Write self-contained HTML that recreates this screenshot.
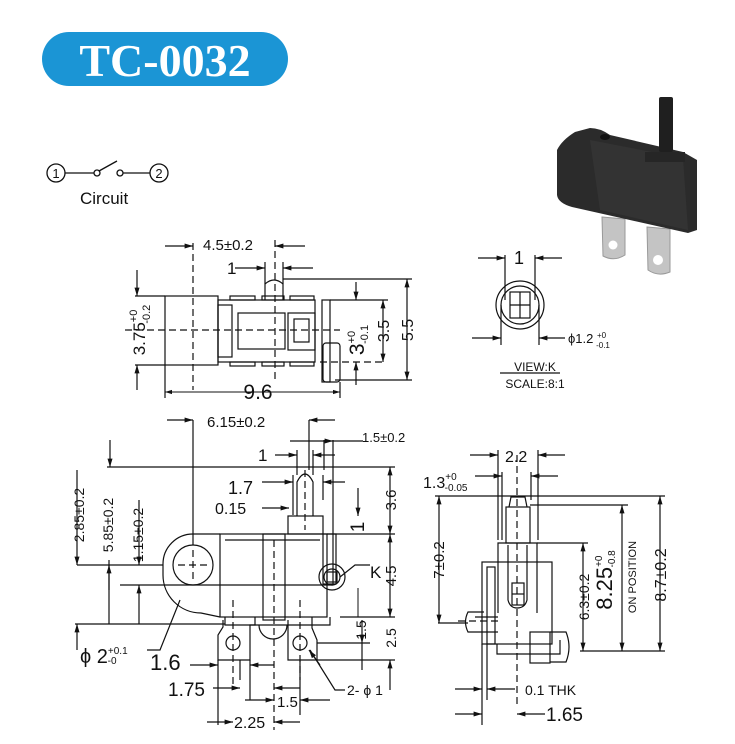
<!DOCTYPE html>
<html><head><meta charset="utf-8"><style>
html,body{margin:0;padding:0;background:#fff}
svg{display:block}
text{font-family:"Liberation Sans",sans-serif;fill:#111}
</style></head><body>
<svg width="735" height="744" viewBox="0 0 735 744" xmlns="http://www.w3.org/2000/svg">
<defs>
<marker id="a" viewBox="0 0 10 10" refX="10" refY="5" markerWidth="7" markerHeight="7" orient="auto-start-reverse"><path d="M0,2 L10,5 L0,8z" fill="#111"/></marker>
</defs>
<!-- title -->
<rect x="42" y="32" width="246" height="54" rx="27" fill="#1b95d5"/>
<text x="165" y="76" text-anchor="middle" style="font-family:'Liberation Serif',serif;font-weight:bold;font-size:46px;fill:#fff">TC-0032</text>
<!-- circuit -->
<g stroke="#111" stroke-width="1.3" fill="none">
<circle cx="56" cy="173" r="9"/><circle cx="159" cy="173" r="9"/>
<line x1="65" y1="173" x2="94" y2="173"/><circle cx="97" cy="173" r="3"/>
<line x1="99" y1="171" x2="117" y2="161"/><circle cx="120" cy="173" r="3"/>
<line x1="123" y1="173" x2="150" y2="173"/>
</g>
<text x="56" y="178" font-size="13" text-anchor="middle">1</text>
<text x="159" y="178" font-size="13" text-anchor="middle">2</text>
<text x="80" y="204" font-size="17">Circuit</text>
<!-- photo -->
<path d="M602,217 L625,219 L625,255 Q614,262 603,256 Z" fill="#c4c4c4" stroke="#999"/>
<path d="M647,227 L670,229 L670,272 Q658,277 648,270 Z" fill="#c4c4c4" stroke="#999"/>
<circle cx="613" cy="245" r="4.5" fill="#fff"/><circle cx="658" cy="260" r="5" fill="#fff"/>
<path d="M557,150 Q562,140 575,132 L590,128 Q600,128 610,135 L683,152 L697,160 L697,230 L688,233 L572,207 Q558,203 557,195 Z" fill="#2b2b2b"/>
<path d="M590,140 L683,158 L688,230 L600,210 Z" fill="#333"/>
<rect x="659" y="97" width="14" height="55" rx="2" fill="#1f1f1f"/>
<rect x="645" y="152" width="40" height="10" fill="#262626"/>
<ellipse cx="605" cy="137" rx="5" ry="3" fill="#111"/>
<g stroke="#111" stroke-width="1.2" fill="none">
<!-- TOP VIEW -->
<rect x="165" y="296" width="53" height="69"/>
<rect x="218" y="300" width="97" height="62"/>
<rect x="238" y="313" width="47" height="36"/>
<rect x="288" y="313" width="27" height="37"/><rect x="294" y="319" width="15" height="23"/>
<rect x="218" y="305" width="14" height="52"/>
<rect x="322" y="300" width="8" height="82"/>
<rect x="323" y="343" width="17" height="39" rx="3"/>
<path d="M265,300 L265,284 Q274,276 283,284 L283,300"/>
<rect x="230" y="296" width="25" height="4"/><rect x="262" y="296" width="22" height="4"/><rect x="290" y="296" width="24" height="4"/>
<rect x="230" y="362" width="25" height="4"/><rect x="262" y="362" width="22" height="4"/><rect x="290" y="362" width="24" height="4"/>
<g stroke-dasharray="7,4"><line x1="125" y1="330" x2="340" y2="330"/><line x1="193" y1="243" x2="193" y2="390"/><line x1="275" y1="240" x2="275" y2="380"/><line x1="320" y1="362" x2="385" y2="362"/></g>
<line x1="165" y1="296" x2="135" y2="296"/><line x1="165" y1="365" x2="135" y2="365"/>
<line x1="137" y1="270" x2="137" y2="296" marker-end="url(#a)"/><line x1="137" y1="390" x2="137" y2="365" marker-end="url(#a)"/>
<line x1="165" y1="365" x2="165" y2="398"/><line x1="340" y1="382" x2="340" y2="398"/>
<line x1="165" y1="392" x2="340" y2="392" marker-start="url(#a)" marker-end="url(#a)" stroke-width="1"/>
<line x1="165" y1="246" x2="193" y2="246" marker-end="url(#a)"/><line x1="305" y1="246" x2="275" y2="246" marker-end="url(#a)"/>
<line x1="265" y1="262" x2="265" y2="284"/><line x1="283" y1="262" x2="283" y2="284"/>
<line x1="235" y1="268" x2="265" y2="268" marker-end="url(#a)"/><line x1="313" y1="268" x2="283" y2="268" marker-end="url(#a)"/>
<line x1="283" y1="279" x2="412" y2="279"/><line x1="330" y1="300" x2="388" y2="300"/><line x1="335" y1="380" x2="412" y2="380"/>
<line x1="407" y1="279" x2="407" y2="380" marker-start="url(#a)" marker-end="url(#a)"/>
<line x1="383" y1="300" x2="383" y2="362" marker-start="url(#a)" marker-end="url(#a)"/>
<line x1="356" y1="282" x2="356" y2="300" marker-end="url(#a)"/><line x1="356" y1="385" x2="356" y2="362" marker-end="url(#a)"/>
<!-- VIEW K -->
<circle cx="520" cy="305" r="24"/><circle cx="520" cy="305" r="19"/>
<rect x="510" y="292" width="20" height="26"/><line x1="520" y1="292" x2="520" y2="318"/><line x1="510" y1="305" x2="530" y2="305"/>
<line x1="505" y1="255" x2="505" y2="300"/><line x1="535" y1="255" x2="535" y2="300"/>
<line x1="478" y1="258" x2="505" y2="258" marker-end="url(#a)"/><line x1="562" y1="258" x2="535" y2="258" marker-end="url(#a)"/>
<line x1="501" y1="305" x2="501" y2="345"/><line x1="539" y1="305" x2="539" y2="345"/>
<line x1="472" y1="338" x2="501" y2="338" marker-end="url(#a)"/><line x1="565" y1="338" x2="539" y2="338" marker-end="url(#a)"/>
<line x1="500" y1="373" x2="560" y2="373"/>
<!-- BOTTOM LEFT -->
<rect x="220" y="534" width="107" height="83"/>
<path d="M220,534 L193,534 A30,30 0 0 0 163,564 L163,575 A38,38 0 0 0 201,613 L220,617"/>
<circle cx="193" cy="565" r="20"/>
<rect x="263" y="534" width="22" height="86"/>
<rect x="288" y="516" width="35" height="18"/>
<path d="M297,516 L297,482 Q305,466 313,482 L313,516"/>
<line x1="225" y1="540" x2="320" y2="540"/>
<rect x="323" y="534" width="13" height="50"/>
<circle cx="332" cy="577" r="13"/><circle cx="332" cy="577" r="8"/><rect x="327" y="572" width="10" height="10"/>
<path d="M225,617 L225,625 L330,625 L330,617"/>
<path d="M223,620 L223,627 L218,635 L218,660 L250,660 L250,625 L255,625 L255,617"/>
<circle cx="233" cy="643" r="7"/>
<path d="M288,620 L288,635 L288,660 L317,660 L317,640 L312,628 L312,617"/>
<circle cx="300" cy="643" r="7"/>
<path d="M259,625 A14,14 0 0 0 287,625"/>
<g stroke-dasharray="7,4"><line x1="274" y1="540" x2="274" y2="730"/><line x1="305" y1="470" x2="305" y2="530"/><line x1="178" y1="565" x2="208" y2="565"/><line x1="193" y1="550" x2="193" y2="580"/><line x1="233" y1="600" x2="233" y2="690"/><line x1="300" y1="600" x2="300" y2="680"/></g>
<line x1="193" y1="420" x2="193" y2="545"/><line x1="309" y1="420" x2="309" y2="470"/>
<line x1="167" y1="420" x2="193" y2="420" marker-end="url(#a)"/><line x1="335" y1="420" x2="309" y2="420" marker-end="url(#a)"/>
<line x1="333" y1="440" x2="333" y2="585"/><line x1="324" y1="440" x2="324" y2="470"/>
<line x1="290" y1="441" x2="333" y2="441" marker-end="url(#a)"/><line x1="363" y1="441" x2="333" y2="441"/>
<line x1="297" y1="450" x2="297" y2="475"/><line x1="313" y1="450" x2="313" y2="475"/>
<line x1="275" y1="455" x2="297" y2="455" marker-end="url(#a)"/><line x1="335" y1="455" x2="313" y2="455" marker-end="url(#a)"/>
<line x1="293" y1="475" x2="293" y2="515"/><line x1="323" y1="475" x2="323" y2="500"/>
<line x1="262" y1="482" x2="293" y2="482" marker-end="url(#a)"/><line x1="345" y1="482" x2="323" y2="482" marker-end="url(#a)"/>
<line x1="262" y1="508" x2="289" y2="508" marker-end="url(#a)"/>
<line x1="107" y1="467" x2="395" y2="467"/>
<line x1="110" y1="440" x2="110" y2="467" marker-end="url(#a)"/>
<line x1="327" y1="534" x2="395" y2="534"/><line x1="340" y1="617" x2="395" y2="617"/>
<line x1="390" y1="467" x2="390" y2="534" marker-start="url(#a)" marker-end="url(#a)"/>
<line x1="390" y1="534" x2="390" y2="617" marker-start="url(#a)" marker-end="url(#a)"/>
<line x1="358" y1="488" x2="358" y2="516" marker-end="url(#a)"/>
<line x1="358" y1="588" x2="358" y2="617" stroke-width="1"/>
<line x1="317" y1="643" x2="370" y2="643"/><line x1="317" y1="660" x2="395" y2="660"/>
<line x1="362" y1="620" x2="362" y2="643" marker-end="url(#a)"/><line x1="362" y1="670" x2="362" y2="643"/>
<line x1="390" y1="690" x2="390" y2="660" marker-end="url(#a)"/>
<line x1="77" y1="565" x2="163" y2="565"/><line x1="120" y1="585" x2="333" y2="585"/><line x1="75" y1="624" x2="225" y2="624"/>
<line x1="77" y1="470" x2="77" y2="565" marker-end="url(#a)"/>
<line x1="109" y1="560" x2="109" y2="624" /><line x1="109" y1="590" x2="109" y2="565" marker-end="url(#a)"/>
<line x1="139" y1="500" x2="139" y2="565" marker-end="url(#a)"/><line x1="139" y1="624" x2="139" y2="585" marker-end="url(#a)"/>
<line x1="77" y1="650" x2="77" y2="624" marker-end="url(#a)"/>
<polyline points="147,650 160,650 180,600"/>
<line x1="218" y1="660" x2="218" y2="725"/><line x1="250" y1="660" x2="250" y2="700"/><line x1="240" y1="660" x2="240" y2="680"/>
<line x1="190" y1="665" x2="218" y2="665" marker-end="url(#a)"/><line x1="274" y1="665" x2="250" y2="665" marker-end="url(#a)"/>
<line x1="213" y1="688" x2="240" y2="688" marker-end="url(#a)"/><line x1="300" y1="688" x2="274" y2="688" marker-end="url(#a)"/>
<line x1="300" y1="660" x2="300" y2="715"/>
<line x1="245" y1="700" x2="274" y2="700" marker-end="url(#a)"/><line x1="330" y1="700" x2="300" y2="700" marker-end="url(#a)"/>
<line x1="207" y1="722" x2="233" y2="722" marker-end="url(#a)"/><line x1="300" y1="722" x2="274" y2="722" marker-end="url(#a)"/>
<polyline points="345,690 335,690 310,650" /><line x1="320" y1="665" x2="309" y2="650" marker-end="url(#a)"/>
<polyline points="370,565 355,565 340,577"/>
<!-- RIGHT VIEW -->
<rect x="482" y="562" width="70" height="82"/>
<rect x="487" y="567" width="8" height="77"/>
<path d="M498,613 L498,543 L537,543 L537,613"/>
<path d="M508,545 L508,600 Q510,608 517,608 Q525,608 527,600 L527,545"/>
<rect x="512" y="583" width="12" height="22"/><line x1="512" y1="594" x2="524" y2="594"/>
<rect x="506" y="507" width="24" height="36"/>
<path d="M509,507 L511,497 L525,497 L527,507"/>
<path d="M484,612 L468,612 Q463,622 468,632 L498,632"/><line x1="475" y1="617" x2="498" y2="617"/>
<path d="M497,644 L497,654 L560,654 L560,640"/>
<rect x="530" y="632" width="20" height="31"/><path d="M550,632 L566,632 Q572,647 566,662 L550,662"/>
<g stroke-dasharray="7,4"><line x1="517" y1="455" x2="517" y2="705"/><line x1="458" y1="621" x2="500" y2="621"/></g>
<line x1="498" y1="450" x2="498" y2="540"/><line x1="538" y1="450" x2="538" y2="540"/>
<line x1="470" y1="455" x2="498" y2="455" marker-end="url(#a)"/><line x1="565" y1="455" x2="538" y2="455" marker-end="url(#a)"/>
<line x1="502" y1="472" x2="502" y2="540"/><line x1="531" y1="472" x2="531" y2="500"/>
<line x1="475" y1="476" x2="502" y2="476" marker-end="url(#a)"/><line x1="558" y1="476" x2="531" y2="476" marker-end="url(#a)"/>
<line x1="435" y1="496" x2="665" y2="496"/><line x1="530" y1="505" x2="628" y2="505"/><line x1="537" y1="543" x2="588" y2="543"/>
<line x1="580" y1="651" x2="665" y2="651"/><line x1="438" y1="623" x2="468" y2="623"/>
<line x1="439" y1="496" x2="439" y2="623" marker-start="url(#a)" marker-end="url(#a)"/>
<line x1="583" y1="543" x2="583" y2="651" marker-start="url(#a)" marker-end="url(#a)"/>
<line x1="622" y1="505" x2="622" y2="651" marker-start="url(#a)" marker-end="url(#a)"/>
<line x1="660" y1="496" x2="660" y2="651" marker-start="url(#a)" marker-end="url(#a)"/>
<line x1="482" y1="644" x2="482" y2="725"/><line x1="487" y1="644" x2="487" y2="700"/>
<line x1="455" y1="689" x2="482" y2="689" marker-end="url(#a)"/><line x1="515" y1="689" x2="487" y2="689" marker-end="url(#a)"/>
<line x1="455" y1="714" x2="482" y2="714" marker-end="url(#a)"/><line x1="545" y1="714" x2="517" y2="714" marker-end="url(#a)"/>
</g>
<!-- texts -->
<text x="203" y="250" font-size="15">4.5±0.2</text>
<text x="227" y="274" font-size="17">1</text>
<text x="258" y="399" font-size="21" text-anchor="middle">9.6</text>
<text transform="translate(145,330) rotate(-90)" font-size="17" text-anchor="middle">3.75<tspan font-size="11" dy="-8">+0</tspan><tspan font-size="11" dx="-14" dy="13">-0.2</tspan></text>
<text transform="translate(364,340) rotate(-90)" font-size="21" text-anchor="middle">3<tspan font-size="11" dy="-9">+0</tspan><tspan font-size="11" dx="-13" dy="13">-0.1</tspan></text>
<text transform="translate(389,331) rotate(-90)" font-size="16" text-anchor="middle">3.5</text>
<text transform="translate(413,330) rotate(-90)" font-size="16" text-anchor="middle">5.5</text>
<text x="514" y="264" font-size="18">1</text>
<text x="568" y="343" font-size="13">ϕ1.2 <tspan font-size="8" dy="-5">+0</tspan><tspan font-size="8" dx="-10" dy="10">-0.1</tspan></text>
<text x="535" y="371" font-size="12" text-anchor="middle">VIEW:K</text>
<text x="535" y="388" font-size="12" text-anchor="middle">SCALE:8:1</text>
<text x="207" y="427" font-size="15">6.15±0.2</text>
<text x="362" y="442" font-size="13">1.5±0.2</text>
<text x="258" y="461" font-size="17">1</text>
<text x="228" y="494" font-size="18">1.7</text>
<text x="215" y="514" font-size="16">0.15</text>
<text transform="translate(84,515) rotate(-90)" font-size="14" text-anchor="middle">2.85±0.2</text>
<text transform="translate(113,525) rotate(-90)" font-size="14" text-anchor="middle">5.85±0.2</text>
<text transform="translate(143,535) rotate(-90)" font-size="14" text-anchor="middle">1.15±0.2</text>
<text transform="translate(396,500) rotate(-90)" font-size="15" text-anchor="middle">3.6</text>
<text transform="translate(364,527) rotate(-90)" font-size="19" text-anchor="middle">1</text>
<text transform="translate(396,576) rotate(-90)" font-size="15" text-anchor="middle">4.5</text>
<text transform="translate(366,630) rotate(-90)" font-size="14" text-anchor="middle">1.5</text>
<text transform="translate(396,638) rotate(-90)" font-size="14" text-anchor="middle">2.5</text>
<text x="370" y="578" font-size="17">K</text>
<text x="80" y="663" font-size="20">ϕ 2<tspan font-size="10" dy="-9">+0.1</tspan><tspan font-size="10" dx="-20" dy="10">-0</tspan></text>
<text x="150" y="670" font-size="22">1.6</text>
<text x="168" y="696" font-size="19">1.75</text>
<text x="277" y="707" font-size="15">1.5</text>
<text x="234" y="728" font-size="16">2.25</text>
<text x="347" y="695" font-size="14">2- ϕ 1</text>
<text x="505" y="462" font-size="16">2.2</text>
<text x="423" y="488" font-size="16">1.3<tspan font-size="10" dy="-8">+0</tspan><tspan font-size="10" dx="-12" dy="11">-0.05</tspan></text>
<text transform="translate(444,560) rotate(-90)" font-size="15" text-anchor="middle">7±0.2</text>
<text transform="translate(589,597) rotate(-90)" font-size="14" text-anchor="middle">6.3±0.2</text>
<text transform="translate(612,580) rotate(-90)" font-size="22" text-anchor="middle">8.25<tspan font-size="10" dy="-10">+0</tspan><tspan font-size="10" dx="-12" dy="13">-0.8</tspan></text>
<text transform="translate(636,577) rotate(-90)" font-size="11" text-anchor="middle">ON POSITION</text>
<text transform="translate(666,575) rotate(-90)" font-size="16" text-anchor="middle">8.7±0.2</text>
<text x="525" y="695" font-size="14">0.1 THK</text>
<text x="546" y="721" font-size="19">1.65</text>
</svg>
</body></html>
